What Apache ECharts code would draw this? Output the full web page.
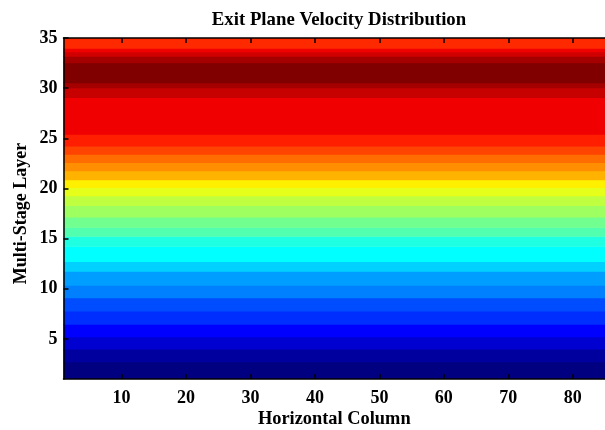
<!DOCTYPE html>
<html>
<head>
<meta charset="utf-8">
<script src="https://cdn.jsdelivr.net/npm/echarts@6/dist/echarts.min.js"></script>
<style>html,body{margin:0;padding:0;background:#fff}#chart{width:605px;height:430px}</style>
</head>
<body>
<div id="chart"></div>
<script>
// Horizontal column edges (columns 1..85)
const columnEdges = [1,2,3,4,5,6,7,8,9,10,11,12,13,14,15,16,17,18,19,20,21,22,23,24,25,26,27,28,29,30,
  31,32,33,34,35,36,37,38,39,40,41,42,43,44,45,46,47,48,49,50,51,52,53,54,55,56,57,58,59,60,
  61,62,63,64,65,66,67,68,69,70,71,72,73,74,75,76,77,78,79,80,81,82,83,84,85];
// Layer band edges (bottom to top)
const layerEdges = [1.0, 2.73, 4.0, 5.22, 6.48, 7.78, 9.1, 10.36, 11.76, 12.73, 14.24, 15.24, 16.13,
  17.16, 18.32, 19.28, 20.11, 20.87, 21.77, 22.6, 23.43, 24.25, 25.42, 29.07, 30.06, 30.56, 32.55,
  33.2, 33.65, 34.0, 35.0];
// Normalised exit velocity for each band (bottom to top)
const velocity = [0.0, 0.03, 0.08, 0.125, 0.17, 0.20, 0.25, 0.28, 0.33, 0.375, 0.405, 0.455, 0.485,
  0.53, 0.5625, 0.60, 0.64, 0.70, 0.735, 0.77, 0.81, 0.845, 0.89, 0.93, 0.965, 1.0, 0.965, 0.92, 0.89, 0.835];
const xTicks = [10, 20, 30, 40, 50, 60, 70, 80];
const yTicks = [5, 10, 15, 20, 25, 30, 35];
const jet = ['#000080','#0000ff','#0080ff','#00ffff','#80ff80','#ffff00','#ff8000','#ff0000','#800000'];

// one band per layer range, spanning all horizontal columns (values are uniform across columns)
const bands = [];
for (let i = 0; i < velocity.length; i++) {
  bands.push([columnEdges[0], columnEdges[columnEdges.length - 1], layerEdges[i], layerEdges[i + 1], velocity[i]]);
}

const font = { fontFamily: 'Liberation Serif', fontWeight: 'bold', fontSize: 18, color: '#000' };
const axisLine = { show: true, lineStyle: { color: '#000', width: 1.5 } };
const tick = (vals) => ({ show: true, inside: true, length: 5, customValues: vals, lineStyle: { color: '#000', width: 1.5 } });

const chart = echarts.init(document.getElementById('chart'), null, { renderer: 'canvas' });
chart.setOption({
  animation: false,
  backgroundColor: '#fff',
  title: {
    text: 'Exit Plane Velocity Distribution',
    left: 334, top: 6, textAlign: 'center',
    textStyle: Object.assign({}, font, { fontSize: 18.8 })
  },
  grid: { left: 63.5, right: 0, top: 38, bottom: 51, outerBoundsMode: 'none', containLabel: false },
  visualMap: {
    show: false, type: 'continuous', min: 0, max: 1, dimension: 4, seriesIndex: 0,
    inRange: { color: jet }
  },
  xAxis: [{
    type: 'value', min: 1, max: 85, position: 'bottom', z: 10,
    axisLine: axisLine,
    axisTick: tick(xTicks),
    axisLabel: Object.assign({ customValues: xTicks, margin: 10 }, font),
    splitLine: { show: false },
    name: 'Horizontal Column', nameLocation: 'middle', nameGap: 31, nameMoveOverlap: false,
    nameTextStyle: Object.assign({}, font, { fontSize: 18.4 })
  }, {
    type: 'value', min: 1, max: 85, position: 'top', z: 10,
    axisLine: axisLine,
    axisTick: tick(xTicks),
    axisLabel: { show: false },
    splitLine: { show: false }
  }],
  yAxis: [{
    type: 'value', min: 1, max: 35, position: 'left', z: 10,
    axisLine: axisLine,
    axisTick: tick(yTicks),
    axisLabel: Object.assign({ customValues: yTicks, margin: 6 }, font),
    splitLine: { show: false },
    name: 'Multi-Stage Layer', nameLocation: 'middle', nameGap: 33, nameMoveOverlap: false,
    nameTextStyle: Object.assign({}, font, { padding: [0, 0, 0, -10] })
  }],
  series: [{
    type: 'custom',
    xAxisIndex: 0, yAxisIndex: 0,
    data: bands,
    z: 1,
    renderItem: function (params, api) {
      const cs = params.coordSys;
      const p0 = api.coord([api.value(0), api.value(3)]);
      const p1 = api.coord([api.value(1), api.value(2)]);
      const y1 = Math.min(p1[1] + 0.6, cs.y + cs.height);
      return {
        type: 'rect',
        shape: { x: p0[0], y: p0[1], width: p1[0] - p0[0], height: y1 - p0[1] },
        style: { fill: api.visual('color') }
      };
    }
  }]
});
</script>
</body>
</html>
